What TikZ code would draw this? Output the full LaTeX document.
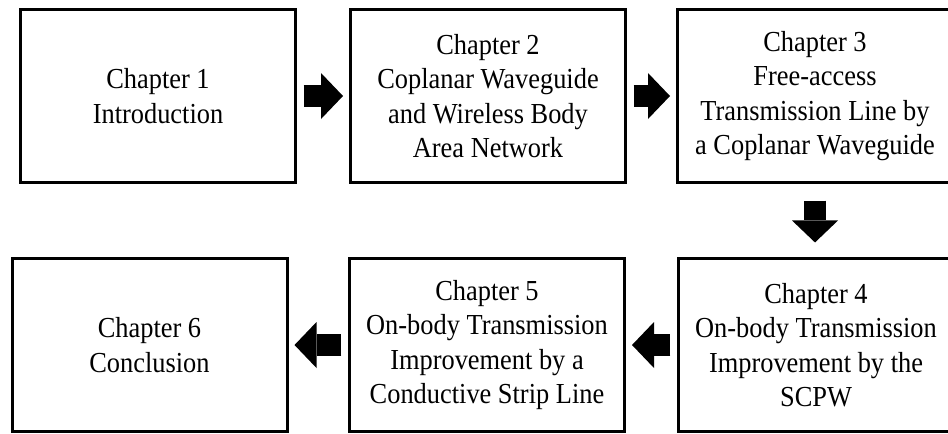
\documentclass[tikz,border=0pt]{standalone}
\usepackage{fontspec}
\setmainfont{Liberation Serif}[FakeStretch=0.91]
\usetikzlibrary{arrows.meta}

\tikzset{
  chapbox/.style={draw, line width=2.25pt, align=center, inner sep=0pt,
    minimum width=206.25pt, minimum height=129.75pt,
    font=\fontsize{21.75}{25.9}\selectfont},
  flow/.style={line width=16.5pt,
    -{Triangle[width=34.5pt,length=16.5pt,line width=0pt]},
    shorten <=5pt, shorten >=4.5pt}
}

\begin{document}
\begin{tikzpicture}[x=0.75pt,y=-0.75pt]
\useasboundingbox (0,0) rectangle (948,433);
\clip (0,0) rectangle (948,433);

\node[chapbox] (ch1) at (158,96) {Chapter 1\\Introduction};
\node[chapbox] (ch2) at (488,96) {Chapter 2\\Coplanar Waveguide\\and Wireless Body\\Area Network};
\node[chapbox] (ch3) at (815,96) {Chapter 3\\Free-access\\Transmission Line by\\a Coplanar Waveguide};

\node[chapbox] (ch4) at (816,345) {Chapter 4\\On-body Transmission\\Improvement by the\\SCPW};
\node[chapbox] (ch5) at (487,345) {Chapter 5\\On-body Transmission\\Improvement by a\\Conductive Strip Line};
\node[chapbox] (ch6) at (149.5,345) {Chapter 6\\Conclusion};

\draw[flow] (ch1) -- (ch2);
\draw[flow] (ch2) -- (ch3);
\draw[flow, shorten <=12.4pt, shorten >=10.9pt] (ch3) -- (ch3 |- ch4.north);
\draw[flow] (ch4) -- (ch5);
\draw[flow] (ch5) -- (ch6);
\end{tikzpicture}
\end{document}
